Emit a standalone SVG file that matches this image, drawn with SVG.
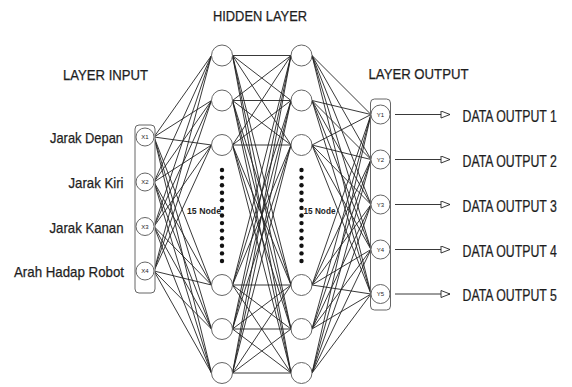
<svg xmlns="http://www.w3.org/2000/svg" width="572" height="387" viewBox="0 0 572 387">
<style>
text{font-family:"Liberation Sans",Arial,sans-serif;fill:#1e1e1e;stroke:#1e1e1e;stroke-width:0.25}
.t{font-size:14.5px}
.lbl{font-size:15px}
.out{font-size:16px}
.nd{font-size:9.5px;font-weight:bold;stroke-width:0}
.sm{font-size:6px;text-anchor:middle;stroke-width:0}
.n{fill:#fff;stroke:#666;stroke-width:1}
.box{fill:#fff;stroke:#666;stroke-width:1}
.c{fill:none;stroke:#222;stroke-width:0.9}
.dot{fill:#111}
</style>
<defs>
<marker id="ah" markerWidth="12" markerHeight="10" refX="10" refY="4" orient="auto" markerUnits="userSpaceOnUse">
<path d="M1,0.5 L10,4 L1,7.5 Z" fill="#fff" stroke="#222" stroke-width="0.9"/>
</marker>
</defs>
<rect width="572" height="387" fill="#fff"/>
<g id="titles">
<text class="t" x="213" y="21" textLength="94" lengthAdjust="spacingAndGlyphs">HIDDEN LAYER</text>
<text class="t" x="63" y="80" textLength="85" lengthAdjust="spacingAndGlyphs">LAYER INPUT</text>
<text class="t" x="368.5" y="78.5" textLength="100" lengthAdjust="spacingAndGlyphs">LAYER OUTPUT</text>
</g>
<g id="connectors">
<path class="c" d="M154,137L211.5,55.5M154,137L211.5,100.5M154,137L211.5,145M154,137L211.5,285M154,137L211.5,329M154,137L211.5,373
M154,182L211.5,55.5M154,182L211.5,100.5M154,182L211.5,145M154,182L211.5,285M154,182L211.5,329M154,182L211.5,373
M154,226.5L211.5,55.5M154,226.5L211.5,100.5M154,226.5L211.5,145M154,226.5L211.5,285M154,226.5L211.5,329M154,226.5L211.5,373
M154,271L211.5,55.5M154,271L211.5,100.5M154,271L211.5,145M154,271L211.5,285M154,271L211.5,329M154,271L211.5,373"/>
<path class="c" d="M232.5,55.5L291,55.5M232.5,55.5L291,100.5M232.5,55.5L291,145M232.5,55.5L291,285M232.5,55.5L291,329M232.5,55.5L291,373
M232.5,100.5L291,55.5M232.5,100.5L291,100.5M232.5,100.5L291,145M232.5,100.5L291,285M232.5,100.5L291,329M232.5,100.5L291,373
M232.5,145L291,55.5M232.5,145L291,100.5M232.5,145L291,145M232.5,145L291,285M232.5,145L291,329M232.5,145L291,373
M232.5,285L291,55.5M232.5,285L291,100.5M232.5,285L291,145M232.5,285L291,285M232.5,285L291,329M232.5,285L291,373
M232.5,329L291,55.5M232.5,329L291,100.5M232.5,329L291,145M232.5,329L291,285M232.5,329L291,329M232.5,329L291,373
M232.5,373L291,55.5M232.5,373L291,100.5M232.5,373L291,145M232.5,373L291,285M232.5,373L291,329M232.5,373L291,373"/>
<path class="c" d="M312,55.5L371,114.5M312,55.5L371,159.5M312,55.5L371,204.5M312,55.5L371,249.5M312,55.5L371,294
M312,100.5L371,114.5M312,100.5L371,159.5M312,100.5L371,204.5M312,100.5L371,249.5M312,100.5L371,294
M312,145L371,114.5M312,145L371,159.5M312,145L371,204.5M312,145L371,249.5M312,145L371,294
M312,285L371,114.5M312,285L371,159.5M312,285L371,204.5M312,285L371,249.5M312,285L371,294
M312,329L371,114.5M312,329L371,159.5M312,329L371,204.5M312,329L371,249.5M312,329L371,294
M312,373L371,114.5M312,373L371,159.5M312,373L371,204.5M312,373L371,249.5M312,373L371,294"/>
<line class="c" x1="395" y1="114.5" x2="450" y2="114.5" marker-end="url(#ah)"/>
<line class="c" x1="395" y1="159.5" x2="450" y2="159.5" marker-end="url(#ah)"/>
<line class="c" x1="395" y1="204.5" x2="450" y2="204.5" marker-end="url(#ah)"/>
<line class="c" x1="395" y1="249.5" x2="450" y2="249.5" marker-end="url(#ah)"/>
<line class="c" x1="395" y1="294" x2="450" y2="294" marker-end="url(#ah)"/>
</g>
<g id="input-layer">
<rect class="box" x="135" y="125" width="20" height="168" rx="4"/>
<g id="x1"><circle class="n" cx="145" cy="137" r="9"/><text class="sm" x="145" y="139.2">X1</text></g>
<g id="x2"><circle class="n" cx="145" cy="182" r="9"/><text class="sm" x="145" y="184.2">X2</text></g>
<g id="x3"><circle class="n" cx="145" cy="226.5" r="9"/><text class="sm" x="145" y="228.7">X3</text></g>
<g id="x4"><circle class="n" cx="145" cy="271" r="9"/><text class="sm" x="145" y="273.2">X4</text></g>
<text class="lbl" x="50" y="143" textLength="73" lengthAdjust="spacingAndGlyphs">Jarak Depan</text>
<text class="lbl" x="68.5" y="188" textLength="55" lengthAdjust="spacingAndGlyphs">Jarak Kiri</text>
<text class="lbl" x="49.5" y="232.5" textLength="74" lengthAdjust="spacingAndGlyphs">Jarak Kanan</text>
<text class="lbl" x="14" y="277" textLength="110" lengthAdjust="spacingAndGlyphs">Arah Hadap Robot</text>
</g>
<g id="hidden-layer-1">
<circle class="n" cx="222" cy="55.5" r="10.5"/>
<circle class="n" cx="222" cy="100.5" r="10.5"/>
<circle class="n" cx="222" cy="145" r="10.5"/>
<circle class="n" cx="222" cy="285" r="10.5"/>
<circle class="n" cx="222" cy="329" r="10.5"/>
<circle class="n" cx="222" cy="373" r="10.5"/>
<g class="dot">
<circle cx="222" cy="170" r="2.2"/><circle cx="222" cy="177.6" r="2.2"/><circle cx="222" cy="185.2" r="2.2"/><circle cx="222" cy="192.7" r="2.2"/><circle cx="222" cy="200.3" r="2.2"/><circle cx="222" cy="207.9" r="2.2"/><circle cx="222" cy="215.5" r="2.2"/><circle cx="222" cy="223.1" r="2.2"/><circle cx="222" cy="230.6" r="2.2"/><circle cx="222" cy="238.2" r="2.2"/><circle cx="222" cy="245.8" r="2.2"/><circle cx="222" cy="253.4" r="2.2"/><circle cx="222" cy="261" r="2.2"/>
</g>
<text class="nd" x="187" y="213.5" textLength="34" lengthAdjust="spacingAndGlyphs">15 Node</text>
</g>
<g id="hidden-layer-2">
<circle class="n" cx="301.5" cy="55.5" r="10.5"/>
<circle class="n" cx="301.5" cy="100.5" r="10.5"/>
<circle class="n" cx="301.5" cy="145" r="10.5"/>
<circle class="n" cx="301.5" cy="285" r="10.5"/>
<circle class="n" cx="301.5" cy="329" r="10.5"/>
<circle class="n" cx="301.5" cy="373" r="10.5"/>
<g class="dot">
<circle cx="301.5" cy="170" r="2.2"/><circle cx="301.5" cy="177.6" r="2.2"/><circle cx="301.5" cy="185.2" r="2.2"/><circle cx="301.5" cy="192.7" r="2.2"/><circle cx="301.5" cy="200.3" r="2.2"/><circle cx="301.5" cy="207.9" r="2.2"/><circle cx="301.5" cy="215.5" r="2.2"/><circle cx="301.5" cy="223.1" r="2.2"/><circle cx="301.5" cy="230.6" r="2.2"/><circle cx="301.5" cy="238.2" r="2.2"/><circle cx="301.5" cy="245.8" r="2.2"/><circle cx="301.5" cy="253.4" r="2.2"/><circle cx="301.5" cy="261" r="2.2"/>
</g>
<text class="nd" x="303.5" y="214" textLength="32" lengthAdjust="spacingAndGlyphs">15 Node</text>
</g>
<g id="output-layer">
<rect class="box" x="370.5" y="99" width="20" height="211" rx="4"/>
<g id="y1"><circle class="n" cx="380.5" cy="114.5" r="9.5"/><text class="sm" x="380.5" y="116.7">Y1</text></g>
<g id="y2"><circle class="n" cx="380.5" cy="159.5" r="9.5"/><text class="sm" x="380.5" y="161.7">Y2</text></g>
<g id="y3"><circle class="n" cx="380.5" cy="204.5" r="9.5"/><text class="sm" x="380.5" y="206.7">Y3</text></g>
<g id="y4"><circle class="n" cx="380.5" cy="249.5" r="9.5"/><text class="sm" x="380.5" y="251.7">Y4</text></g>
<g id="y5"><circle class="n" cx="380.5" cy="294" r="9.5"/><text class="sm" x="380.5" y="296.2">Y5</text></g>
</g>
<g id="outputs">
<text class="out" transform="translate(462.5,121.5) scale(0.77,1)">DATA OUTPUT 1</text>
<text class="out" transform="translate(462.5,166.5) scale(0.77,1)">DATA OUTPUT 2</text>
<text class="out" transform="translate(462.5,211.5) scale(0.77,1)">DATA OUTPUT 3</text>
<text class="out" transform="translate(462.5,256.5) scale(0.77,1)">DATA OUTPUT 4</text>
<text class="out" transform="translate(462.5,301) scale(0.77,1)">DATA OUTPUT 5</text>
</g>
</svg>
